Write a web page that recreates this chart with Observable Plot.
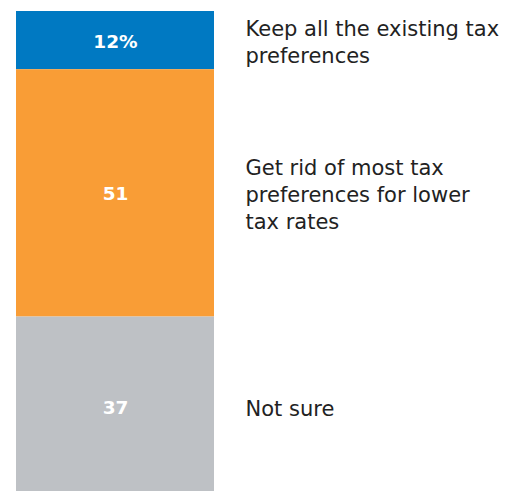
<!DOCTYPE html>
<html>
<head>
<meta charset="utf-8">
<script src="https://cdn.jsdelivr.net/npm/d3@7"></script>
<script src="https://cdn.jsdelivr.net/npm/@observablehq/plot@0.6"></script>
<style>
  html, body { margin: 0; padding: 0; background: #fff; }
  #chart svg { display: block; }
</style>
</head>
<body>
<div id="chart"></div>
<script>
const categories = ["Keep all the existing tax preferences", "Get rid of most tax preferences for lower tax rates", "Not sure"];
const values = [12, 51, 37];
const valueLabels = ["12%", "51", "37"];
const legendLines = ["Keep all the existing tax\npreferences", "Get rid of most tax\npreferences for lower\ntax rates", "Not sure"];
const colors = ["#0079C2", "#F99D36", "#BEC1C5"];

const data = categories.map((c, i) => ({
  group: "All",
  category: c,
  value: values[i],
  label: valueLabels[i],
  legend: legendLines[i]
}));

const chart = Plot.plot({
  width: 505,
  height: 491,
  margin: 0,
  x: { type: "band", domain: ["All"], range: [16, 214], padding: 0, axis: null },
  y: { domain: [0, 100], range: [11, 496], axis: null },
  color: { domain: categories, range: colors },
  style: { fontFamily: "'DejaVu Sans', sans-serif" },
  marks: [
    Plot.barY(data, Plot.stackY({ x: "group", y: "value", fill: "category", order: null })),
    Plot.text(data, Plot.stackY({ x: "group", y: "value", text: "label", order: null,
      fill: "white", fontWeight: "bold", fontSize: 18.5, dy: 1 })),
    Plot.text(data, Plot.stackY({ x: "group", y: "value", text: "legend", order: null,
      textAnchor: "start", dx: 130, fill: "#222", fontSize: 21, lineHeight: 1.3 }))
  ]
});
document.getElementById("chart").appendChild(chart);
</script>
</body>
</html>
